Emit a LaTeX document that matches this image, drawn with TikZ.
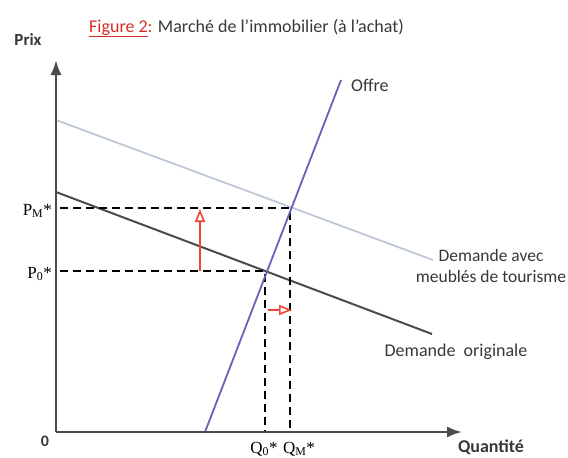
\documentclass[tikz,border=0pt]{standalone}
\usepackage{fontspec}
\setmainfont{Carlito}
\newfontfamily\serifnum{Liberation Serif}
\usetikzlibrary{arrows.meta}
\definecolor{txtgray}{RGB}{55,55,55}
\definecolor{offrecol}{RGB}{105,95,185}
\definecolor{lightdem}{RGB}{190,200,215}
\definecolor{darkdem}{RGB}{75,75,75}
\definecolor{redarr}{RGB}{235,70,55}
\definecolor{titlered}{RGB}{215,45,40}
\tikzset{
  axis/.style={line width=2.2pt, draw=darkdem, -{Latex[length=15pt,width=11pt]}},
  guide/.style={line width=2.6pt, black, dash pattern=on 8pt off 5pt},
  shift arrow/.style={line width=1.5pt, draw=redarr, -{Triangle[open,length=13pt,width=10pt,line width=1.6pt]}},
  lbl/.style={text=txtgray, font=\fontsize{18}{21}\selectfont, inner sep=1pt},
  plbl/.style={text=black, font=\serifnum\fontsize{17}{19}\selectfont, inner sep=1pt},
}
\begin{document}
\begin{tikzpicture}[x=1pt,y=-1pt]
\useasboundingbox (0,0) rectangle (568,458);
% key points
\coordinate (O) at (56,432);
\coordinate (ytip) at (56,60);
\coordinate (xtip) at (462,432);
\coordinate (E0) at (265,271);
\coordinate (EM) at (290,208);
\coordinate (S1) at (205,432);
\coordinate (S2) at (341,80);
\coordinate (L1) at (56,120);
\coordinate (L2) at (433,260);
\coordinate (D1) at (56,192);
\coordinate (D2) at (432,334);
\coordinate (PMl) at (60,208);
\coordinate (P0l) at (60,271);
\coordinate (Q0b) at (265,432);
\coordinate (QMb) at (290,432);
\coordinate (upA) at (200,271);
\coordinate (upB) at (200,209);
\coordinate (rtA) at (268,310);
\coordinate (rtB) at (292,310);
% demand curves
\draw[lightdem, line width=1.8pt] (L1) -- (L2);
\draw[darkdem, line width=2pt] (D1) -- (D2);
% guides
\draw[guide] (PMl) -- (EM) -- (QMb);
\draw[guide] (P0l) -- (E0) -- (Q0b);
% supply
\draw[offrecol, line width=1.8pt] (S1) -- (S2);
% axes
\draw[axis] (O) -- (ytip);
\draw[axis] (O) -- (xtip);
% shifts
\draw[shift arrow] (upA) -- (upB);
\draw[shift arrow] (rtA) -- (rtB);
% labels
\node[lbl, font=\bfseries\fontsize{17}{19}\selectfont] (prix) at (28,40) {Prix};
\node[lbl, anchor=west] (title) at (88,28) {\textcolor{titlered}{\underline{Figure 2}:} Marché de l'immobilier (à l'achat)};
\node[lbl, font=\bfseries\fontsize{16}{18}\selectfont] (zero) at (45,441) {0};
\node[plbl, anchor=east] (pm) at (53,211) {P\textsubscript{M}*};
\node[plbl, anchor=east] (p0) at (53,274) {P\textsubscript{0}*};
\node[plbl] (q0) at (264,449) {Q\textsubscript{0}*};
\node[plbl] (qm) at (299,449) {Q\textsubscript{M}*};
\node[lbl, font=\bfseries\fontsize{18}{20}\selectfont] (quant) at (491,447) {Quantité};
\node[lbl, anchor=west] (offre) at (350,85) {Offre};
\node[lbl, align=center, font=\fontsize{17.5}{21}\selectfont] (dav) at (491,266) {Demande avec\\meublés de tourisme};
\node[lbl] (dor) at (456,352) {Demande\ \ originale};
\end{tikzpicture}
\end{document}
